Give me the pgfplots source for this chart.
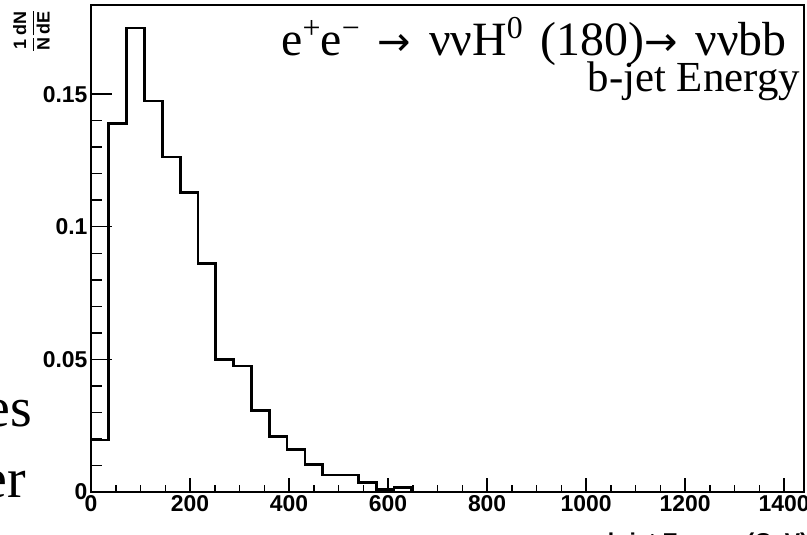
\documentclass[border=0pt]{standalone}
\usepackage{fontspec}
\setmainfont{Liberation Serif}
\setsansfont{Liberation Sans}
\newfontfamily\arrowfont{DejaVu Sans}
\usepackage{amsmath}
\usepackage{pgfplots}
\pgfplotsset{compat=1.18}

% b-jet energy histogram, 36 GeV bins, normalised to unit sum
\pgfplotstableread{
E      frac
0      0.0196
36     0.1389
72     0.1749
108    0.1474
144    0.1263
180    0.1129
216    0.0862
252    0.0501
288    0.0475
324    0.0308
360    0.0210
396    0.0159
432    0.0104
468    0.0064
504    0.0064
540    0.0037
576    0.0010
612    0.0016
648    0
1440   0
}\bjet

\newcommand{\arr}{{\arrowfont\fontsize{40}{40}\selectfont →}}
\newcommand{\sups}[1]{\raisebox{0.36em}{\fontsize{32}{32}\selectfont #1}}
\newcommand{\gap}{\hspace{0.25em}\hspace{6bp}}

\begin{document}
\begin{tikzpicture}
\pgfplotsset{
  rootax/.style={
    scale only axis, width=713bp, height=487bp,
    at={(91bp,43bp)}, anchor=south west,
    xmin=0, xmax=1440, ymin=0, ymax=0.1836,
    axis line style={line width=2.8bp},
    tick align=inside, xtick pos=bottom, ytick pos=left,
    tick style={black, line width=1.5bp},
    tick label style={font=\fontsize{23}{23}\selectfont\sffamily\bfseries},
    /pgf/number format/assume math mode=true,
    /pgf/number format/set thousands separator={},
  }
}
% x ticks and the histogram
\begin{axis}[rootax, ytick=\empty,
  xtick={0,200,...,1400}, minor x tick num=3,
  major tick length=14bp, minor tick length=7bp]
\addplot[const plot, line width=2.8bp, black] table[x=E, y=frac] {\bjet};
\end{axis}
% y ticks (longer, as ROOT scales them with the other axis)
\begin{axis}[rootax, xtick=\empty,
  ytick={0,0.05,0.1,0.15}, minor y tick num=4,
  major tick length=21bp, minor tick length=10.5bp,
  yticklabel style={/pgf/number format/fixed, /pgf/number format/precision=2}]
\end{axis}

% y axis title
\node[rotate=90, anchor=north east, font=\fontsize{18}{18}\selectfont\sffamily\bfseries, inner sep=0pt]
  at (13bp,525bp) {$\dfrac{\text{1}}{\text{N}}\dfrac{\text{dN}}{\text{dE}}$};
% x axis title, mostly below the page edge
\node[anchor=base east, inner sep=0pt, font=\fontsize{23}{23}\selectfont\sffamily\bfseries]
  at (808bp,-14bp) {b-jet Energy (GeV)};

% plot labels
\node[anchor=base east, inner sep=0pt, font=\fontsize{48}{48}\selectfont]
  at (787bp,479bp) {e\sups{+}e\sups{−}\gap\arr\gap ννH\sups{0}\gap(180)\arr\gap ννbb};
\node[anchor=base east, inner sep=0pt, font=\fontsize{43}{43}\selectfont]
  at (800bp,443bp) {b-jet Energy};

% slide text cut off at the left edge
\node[anchor=base east, inner sep=0pt, font=\fontsize{56}{56}\selectfont]
  at (32bp,108bp) {es};
\node[anchor=base east, inner sep=0pt, font=\fontsize{56}{56}\selectfont]
  at (26bp,38bp) {er};

\pgfresetboundingbox
\useasboundingbox (0,0) rectangle (807bp,535bp);
\end{tikzpicture}
\end{document}
